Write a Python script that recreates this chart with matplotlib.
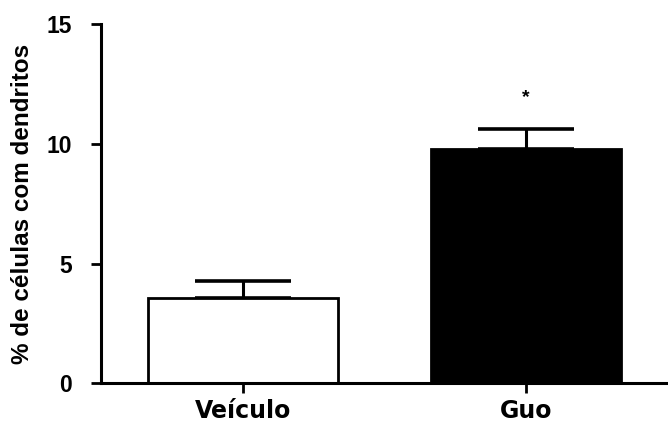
import matplotlib
matplotlib.use("Agg")
import matplotlib.pyplot as plt

groups = ["Veículo", "Guo"]
means = [3.58, 9.80]
sem = [0.69, 0.83]
colors = ["white", "black"]
yticks = [0, 5, 10, 15]
ylabel = "% de células com dendritos"

fig = plt.figure(figsize=(6.68, 4.23), dpi=100)
ax = fig.add_axes([0.1512, 0.0939, 0.8488, 0.8487])

x = list(range(len(groups)))
ax.bar(x, means, width=0.67, color=colors, edgecolor="black", linewidth=2, zorder=2)
ax.errorbar(x, means, yerr=[[0] * len(sem), sem], fmt="none", ecolor="black",
            elinewidth=2.2, capsize=34.5, capthick=2.6, zorder=1)

# significance mark over Guo
ax.text(1, 11.95, "*", ha="center", va="center", fontsize=14, fontweight="bold",
        family="Liberation Sans")

ax.set_xlim(-0.5, 1.5)
ax.set_ylim(0, 15)
ax.set_yticks(yticks)
ax.set_xticks(x)
ax.set_xticklabels(groups, fontsize=17, fontweight="bold", family="DejaVu Sans")
for lab in ax.get_yticklabels():
    lab.set_fontsize(16.5)
    lab.set_fontweight("bold")
    lab.set_family("Liberation Sans")
ax.tick_params(axis="y", length=7.2, width=2, pad=14)
ax.tick_params(axis="x", length=7.2, width=2, pad=4)
ax.set_ylabel(ylabel, fontsize=17.5, fontweight="bold", family="Liberation Sans", labelpad=9)

for side in ["top", "right"]:
    ax.spines[side].set_visible(False)
for side in ["left", "bottom"]:
    ax.spines[side].set_linewidth(2.2)

fig.savefig("out.png", dpi=100)
